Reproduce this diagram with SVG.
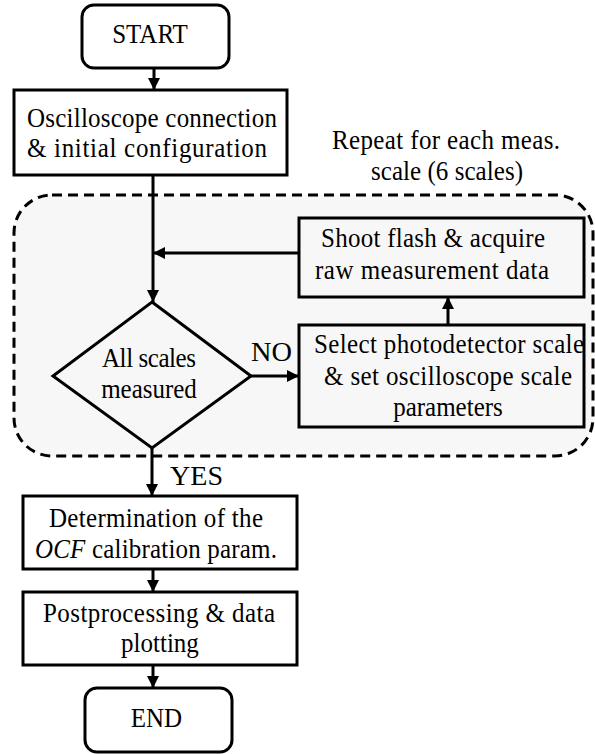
<svg xmlns="http://www.w3.org/2000/svg" width="595" height="754" viewBox="0 0 595 754">
<style>
.box{fill:none;stroke:#000;stroke-width:3}
.t{font-family:"Liberation Serif","Times New Roman",serif;font-size:25px;fill:#000;text-anchor:middle}
.lbl{font-family:"Liberation Serif","Times New Roman",serif;font-size:28px;fill:#000}
.c{fill:none;stroke:#000;stroke-width:3}
.region{fill:#f7f7f7;stroke:#000;stroke-width:3;stroke-dasharray:10 6}
</style>
<defs>
<marker id="ah" markerUnits="userSpaceOnUse" markerWidth="12" markerHeight="12" refX="12" refY="6" orient="auto">
<path d="M0,0 L12,6 L0,12 z" fill="#000"/>
</marker>
</defs>
<g id="loop-region">
<rect class="region" x="14" y="195" width="579" height="261" rx="38" ry="38"/>
<text class="t" x="446" y="149" transform="matrix(1,0,0,1.13,0,-19.37)" textLength="228" lengthAdjust="spacing">Repeat for each meas.</text>
<text class="t" x="447" y="180" transform="matrix(1,0,0,1.13,0,-23.4)" textLength="152" lengthAdjust="spacing">scale (6 scales)</text>
</g>
<g id="start">
<rect class="box" x="82" y="5" width="147" height="63" rx="12" ry="12"/>
<text class="t" x="150" y="43" transform="matrix(1,0,0,1.13,0,-5.59)">START</text>
</g>
<g id="osc">
<rect class="box" x="14" y="90" width="273" height="85"/>
<text class="t" x="152" y="127" transform="matrix(1,0,0,1.13,0,-16.51)" textLength="250" lengthAdjust="spacing">Oscilloscope connection</text>
<text class="t" x="147" y="157" transform="matrix(1,0,0,1.13,0,-20.41)" textLength="240" lengthAdjust="spacing">&amp; initial configuration</text>
</g>
<g id="shoot">
<rect class="box" x="299" y="218" width="285" height="79"/>
<text class="t" x="433" y="247" transform="matrix(1,0,0,1.13,0,-32.11)" textLength="224" lengthAdjust="spacing">Shoot flash &amp; acquire</text>
<text class="t" x="432" y="279" transform="matrix(1,0,0,1.13,0,-36.27)" textLength="234" lengthAdjust="spacing">raw measurement data</text>
</g>
<g id="decision">
<polygon class="box" points="152,302 251,376 152,448 53,376"/>
<text class="t" x="149" y="367" transform="matrix(1,0,0,1.13,0,-47.71)" textLength="94" lengthAdjust="spacing">All scales</text>
<text class="t" x="149" y="398" transform="matrix(1,0,0,1.13,0,-51.74)">measured</text>
</g>
<g id="select">
<rect class="box" x="299" y="325" width="285" height="102"/>
<text class="t" x="449" y="353" transform="matrix(1,0,0,1.13,0,-45.89)" textLength="270" lengthAdjust="spacing">Select photodetector scale</text>
<text class="t" x="448" y="385" transform="matrix(1,0,0,1.13,0,-50.05)" textLength="248" lengthAdjust="spacing">&amp; set oscilloscope scale</text>
<text class="t" x="448" y="416" transform="matrix(1,0,0,1.13,0,-54.08)">parameters</text>
</g>
<g id="determination">
<rect class="box" x="23" y="496" width="274" height="73"/>
<text class="t" x="156" y="527" transform="matrix(1,0,0,1.13,0,-68.51)" textLength="214" lengthAdjust="spacing">Determination of the</text>
<text class="t" x="156" y="558" transform="matrix(1,0,0,1.13,0,-72.54)" textLength="242" lengthAdjust="spacing"><tspan font-style="italic">OCF</tspan> calibration param.</text>
</g>
<g id="postprocessing">
<rect class="box" x="23" y="592" width="274" height="73"/>
<text class="t" x="159" y="622" transform="matrix(1,0,0,1.13,0,-80.86)" textLength="232" lengthAdjust="spacing">Postprocessing &amp; data</text>
<text class="t" x="160" y="652" transform="matrix(1,0,0,1.13,0,-84.76)">plotting</text>
</g>
<g id="end">
<rect class="box" x="85" y="688" width="147" height="64" rx="12" ry="12"/>
<text class="t" x="156.5" y="727" transform="matrix(1,0,0,1.13,0,-94.51)">END</text>
</g>
<g id="connectors">
<path class="c" d="M154,68 L154,90" marker-end="url(#ah)"/>
<path class="c" d="M153,175 L153,302" marker-end="url(#ah)"/>
<path class="c" d="M299,253 L153,253" marker-end="url(#ah)"/>
<path class="c" d="M251,376 L299,376" marker-end="url(#ah)"/>
<path class="c" d="M448,325 L448,297" marker-end="url(#ah)"/>
<path class="c" d="M152,448 L152,496" marker-end="url(#ah)"/>
<path class="c" d="M153,569 L153,592" marker-end="url(#ah)"/>
<path class="c" d="M153,665 L153,688" marker-end="url(#ah)"/>
<text class="lbl" x="251" y="361" textLength="41" lengthAdjust="spacingAndGlyphs">NO</text>
<text class="lbl" x="170" y="485" textLength="53" lengthAdjust="spacingAndGlyphs">YES</text>
</g>
</svg>
